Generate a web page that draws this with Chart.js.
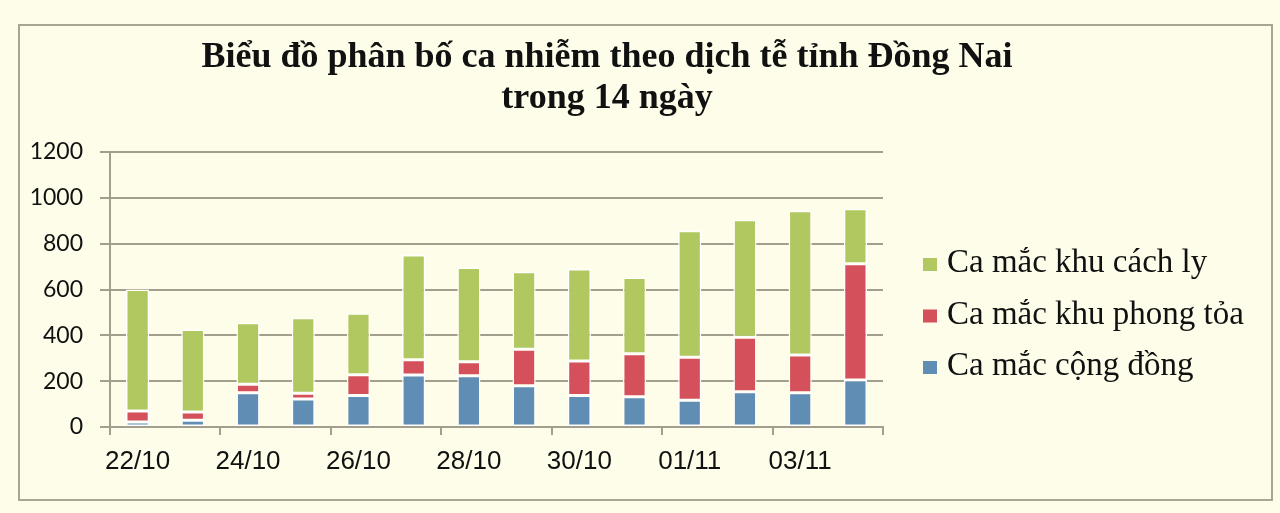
<!DOCTYPE html>
<html>
<head>
<meta charset="utf-8">
<script src="https://cdn.jsdelivr.net/npm/chart.js@4"></script>
<style>
  html, body { margin: 0; padding: 0; background: #fdfde9; }
  #wrap { width: 1280px; height: 513px; }
</style>
</head>
<body>
<div id="wrap"><canvas id="chart1"></canvas></div>
<script>
// ngày
const ngay = ['22/10', '23/10', '24/10', '25/10', '26/10', '27/10', '28/10',
              '29/10', '30/10', '31/10', '01/11', '02/11', '03/11', '04/11'];
// số ca theo loại
const congDong = [22, 30, 150, 122, 137, 227, 224, 180, 137, 132, 117, 154, 150, 205];
const phongToa = [48, 35, 37, 25, 91, 66, 61, 159, 151, 188, 187, 238, 164, 507];
const cachLy   = [530, 360, 268, 330, 268, 458, 411, 339, 402, 332, 552, 512, 630, 240];
const yTicks = [0, 200, 400, 600, 800, 1000, 1200];
const tieuDe = ['Biểu đồ phân bố ca nhiễm theo dịch tễ tỉnh Đồng Nai', 'trong 14 ngày'];

const xam = '#a39f8e';

// nền, khung, tiêu đề và chú thích
const trangTri = {
    id: 'trangTri',
    beforeDraw(chart) {
        const c = chart.ctx;
        c.save();
        c.fillStyle = '#fdfde9';
        c.fillRect(0, 0, chart.width, chart.height);
        c.strokeStyle = '#a8a692';
        c.lineWidth = 2;
        c.strokeRect(19, 25, 1253, 475);
        c.restore();
    },
    afterDraw(chart) {
        const c = chart.ctx;
        c.save();
        // tiêu đề
        c.fillStyle = '#111';
        c.textAlign = 'center';
        c.textBaseline = 'alphabetic';
        c.font = 'bold 36px "Liberation Serif"';
        c.fillText(tieuDe[0], 607, 67);
        c.fillText(tieuDe[1], 607, 108);
        // chú thích (ngược thứ tự chồng)
        c.textAlign = 'left';
        c.font = '33px "Liberation Serif"';
        const ds = chart.data.datasets.slice().reverse();
        ds.forEach((d, i) => {
            const y = 272 + i * 51.5;
            c.fillStyle = d.backgroundColor;
            c.fillRect(923, y - 14, 14, 13);
            c.fillStyle = '#111';
            c.fillText(d.label, 947, y);
        });
        c.restore();
    }
};

const ctx = document.getElementById('chart1').getContext('2d');
const myChart = new Chart(ctx, {
    type: 'bar',
    data: {
        labels: ngay,
        datasets: [
            { label: 'Ca mắc cộng đồng', data: congDong, backgroundColor: '#5f8db4' },
            { label: 'Ca mắc khu phong tỏa', data: phongToa, backgroundColor: '#d4505a' },
            { label: 'Ca mắc khu cách ly', data: cachLy, backgroundColor: '#b1c860' }
        ]
    },
    options: {
        responsive: true,
        maintainAspectRatio: false,
        animation: false,
        datasets: {
            bar: {
                categoryPercentage: 1,
                barPercentage: 0.42,
                borderColor: '#ffffff',
                borderWidth: 1.5,
                borderSkipped: false
            }
        },
        layout: { padding: { top: 152, left: 0, right: 397, bottom: 36 } },
        plugins: {
            title: { display: false },
            legend: { display: false },
            tooltip: { enabled: false }
        },
        scales: {
            x: {
                stacked: true,
                afterFit: s => { s.height = 50; },
                grid: {
                    offset: true,
                    drawOnChartArea: false,
                    drawTicks: true,
                    tickLength: 8,
                    lineWidth: 2,
                    color: c => (c.index % 2 ? 'rgba(0,0,0,0)' : xam)
                },
                border: { color: xam, width: 2 },
                ticks: {
                    autoSkip: false,
                    maxRotation: 0,
                    padding: 11,
                    color: '#111',
                    font: { family: 'Liberation Sans', size: 26 },
                    callback: (v, i) => (i % 2 === 0 ? ngay[i] : '')
                }
            },
            y: {
                stacked: true,
                min: 0,
                max: 1200,
                afterFit: s => { s.width = 110; },
                afterBuildTicks: s => { s.ticks = yTicks.map(v => ({ value: v })); },
                grid: { color: xam, lineWidth: 2, tickLength: 10 },
                border: { color: xam, width: 2 },
                ticks: {
                    padding: 17,
                    color: '#111',
                    font: { family: 'Lato', size: 23 },
                    callback: v => String(v)
                }
            }
        }
    },
    plugins: [trangTri]
});
</script>
</body>
</html>
